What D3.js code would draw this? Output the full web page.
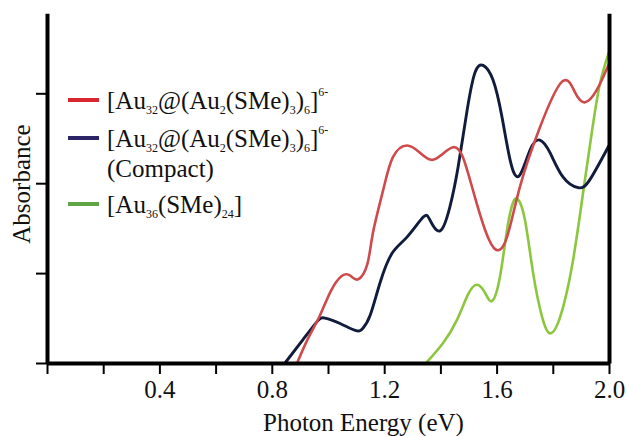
<!DOCTYPE html>
<html>
<head>
  <meta charset="utf-8">
  <title>Absorbance spectra</title>
  <script src="https://d3js.org/d3.v7.min.js"></script>
  <style>
    body { margin: 0; background: #fff; }
  </style>
</head>
<body>
<script>
// data (photon energy in eV, absorbance in tick units)
var au32E = [0.89, 0.93, 0.97, 1.01, 1.05, 1.08, 1.107, 1.14, 1.16, 1.196, 1.231, 1.281, 1.327, 1.367, 1.402, 1.445, 1.48, 1.516, 1.559, 1.598, 1.637, 1.683, 1.754, 1.833, 1.879, 1.915, 1.957, 2.0]
var au32A = [0, 0.28, 0.52, 0.80, 0.97, 0.97, 0.93, 1.10, 1.45, 1.92, 2.29, 2.42, 2.34, 2.26, 2.31, 2.40, 2.29, 1.92, 1.48, 1.26, 1.40, 1.96, 2.62, 3.13, 3.01, 2.90, 3.04, 3.33]

var compactE = [0.847, 0.911, 0.961, 0.989, 1.043, 1.1, 1.125, 1.15, 1.185, 1.228, 1.281, 1.338, 1.363, 1.399, 1.434, 1.463, 1.495, 1.523, 1.552, 1.587, 1.619, 1.648, 1.68, 1.719, 1.754, 1.79, 1.836, 1.89, 1.932, 2.0]
var compactA = [0, 0.26, 0.46, 0.50, 0.44, 0.36, 0.39, 0.53, 0.89, 1.22, 1.40, 1.62, 1.59, 1.47, 1.74, 2.18, 2.81, 3.23, 3.31, 3.15, 2.74, 2.26, 2.08, 2.37, 2.48, 2.34, 2.07, 1.95, 2.04, 2.42]

var au36E = [1.349, 1.409, 1.459, 1.498, 1.53, 1.559, 1.584, 1.612, 1.637, 1.658, 1.676, 1.701, 1.73, 1.762, 1.79, 1.826, 1.868, 1.904, 1.94, 1.968, 2.0]
var au36A = [0, 0.22, 0.48, 0.76, 0.87, 0.78, 0.69, 0.96, 1.48, 1.78, 1.82, 1.59, 1.00, 0.51, 0.33, 0.51, 1.07, 1.81, 2.59, 3.11, 3.46]

var xTicks = [0, 0.2, 0.4, 0.6, 0.8, 1.0, 1.2, 1.4, 1.6, 1.8, 2.0]
var xLabels = [0.4, 0.8, 1.2, 1.6, 2.0]
var yTicks = [0, 1, 2, 3]

var W = 627, H = 436
var FONT = '"Liberation Serif", Tinos, "Times New Roman", "DejaVu Serif", serif'

var svg = d3.select("body").append("svg")
    .attr("width", W).attr("height", H)
    .style("font-family", FONT)

var x = d3.scaleLinear().domain([0, 2.0]).range([47, 609])
var y = d3.scaleLinear().domain([0, 3.89]).range([363, 13.3])

function zip(es, as) { return es.map(function(e, i) { return [e, as[i]] }) }

var series = [
  {pts: zip(au32E, au32A), curve: "#cf4a4c", key: "#d7262e", w: 2.6},
  {pts: zip(compactE, compactA), curve: "#111c3d", key: "#2b2566", w: 2.9},
  {pts: zip(au36E, au36A), curve: "#8cc63f", key: "#5fa545", w: 2.6}
]

var line = d3.line()
    .x(function(d) { return x(d[0]) })
    .y(function(d) { return y(d[1]) })
    .curve(d3.curveNatural)

// spectra: green first, then blue, red on top where they cross
svg.selectAll("path.spec").data([series[2], series[1], series[0]]).enter()
  .append("path").attr("class", "spec")
  .attr("d", function(d) { return line(d.pts) })
  .attr("fill", "none")
  .attr("stroke", function(d) { return d.curve })
  .attr("stroke-width", function(d) { return d.w })

// x axis
var xAxis = svg.append("g").attr("transform", "translate(0,363)")
  .call(d3.axisBottom(x).tickValues(xTicks).tickSize(11).tickSizeOuter(0)
      .tickFormat(function(d) { return xLabels.some(function(v) { return Math.abs(v - d) < 1e-9 }) ? d3.format(".1f")(d) : "" }))
xAxis.attr("font-family", null)
xAxis.select(".domain").attr("stroke", "#000").attr("stroke-width", 4)
xAxis.selectAll(".tick line").attr("stroke", "#000").attr("stroke-width", 2)
xAxis.selectAll(".tick text").attr("font-size", 25).attr("y", 17).attr("dy", "0.71em")
  .attr("fill", "#111").style("font-family", FONT)

// y axis (no labels)
var yAxis = svg.append("g").attr("transform", "translate(47,0)")
  .call(d3.axisLeft(y).tickValues(yTicks).tickSize(11).tickSizeOuter(0).tickFormat(""))
yAxis.select(".domain").attr("stroke", "#000").attr("stroke-width", 4)
yAxis.selectAll(".tick line").attr("stroke", "#000").attr("stroke-width", 2)

// right frame line
var rAxis = svg.append("g").attr("transform", "translate(609,0)")
  .call(d3.axisRight(y).tickValues([]).tickSizeOuter(0))
rAxis.select(".domain").attr("stroke", "#000").attr("stroke-width", 4)

// axis titles
svg.append("text").attr("x", 263).attr("y", 431)
  .attr("font-size", 25).attr("fill", "#111").style("font-family", FONT)
  .text("Photon Energy (eV)")
svg.append("text")
  .attr("transform", "translate(30,184) rotate(-90)")
  .attr("text-anchor", "middle").attr("font-size", 25).attr("fill", "#111")
  .style("font-family", FONT).text("Absorbance")

// legend
var legRows = [
  {ly: 100, ty: 109, parts: [["[Au"], ["32", "sub"], ["@(Au"], ["2", "sub"], ["(SMe)"], ["3", "sub"], [")"], ["6", "sub"], ["]"], ["6-", "sup"]]},
  {ly: 138, ty: 147, parts: [["[Au"], ["32", "sub"], ["@(Au"], ["2", "sub"], ["(SMe)"], ["3", "sub"], [")"], ["6", "sub"], ["]"], ["6-", "sup"]]},
  {ly: 204, ty: 213, parts: [["[Au"], ["36", "sub"], ["(SMe)"], ["24", "sub"], ["]"]]}
]

legRows.forEach(function(r, i) {
  svg.append("line")
    .attr("x1", 68).attr("x2", 99).attr("y1", r.ly).attr("y2", r.ly)
    .attr("stroke", series[i].key).attr("stroke-width", 4)
  var t = svg.append("text").attr("x", 107).attr("y", r.ty).attr("font-size", 25)
    .attr("fill", "#111").style("font-family", FONT)
  var shift = 0
  r.parts.forEach(function(p) {
    var ts = t.append("tspan").text(p[0])
    var target = p[1] === "sub" ? 5 : p[1] === "sup" ? -13 : 0
    if (p[1]) ts.attr("font-size", 12)
    ts.attr("dy", target - shift)
    shift = target
  })
})
svg.append("text").attr("x", 107).attr("y", 177).attr("font-size", 25)
  .attr("fill", "#111").style("font-family", FONT).text("(Compact)")
</script>
</body>
</html>
